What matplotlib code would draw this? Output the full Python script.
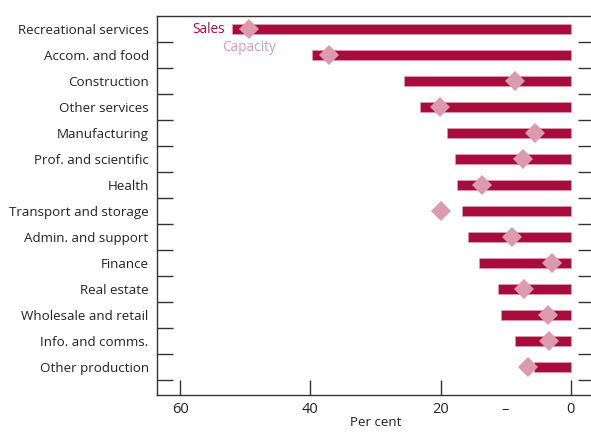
import matplotlib
matplotlib.use('Agg')
import matplotlib.pyplot as plt
from matplotlib.ticker import FixedLocator

# Sectors, top to bottom
sectors = ['Recreational services', 'Accom. and food', 'Construction', 'Other services',
           'Manufacturing', 'Prof. and scientific', 'Health', 'Transport and storage',
           'Admin. and support', 'Finance', 'Real estate', 'Wholesale and retail',
           'Info. and comms.', 'Other production']

# Fall in sales and capacity (per cent)
sales = [52.1, 39.7, 25.6, 23.2, 19.0, 17.7, 17.5, 16.7, 15.8, 14.1, 11.2, 10.7, 8.5, 5.7]
capacity = [49.4, 37.1, 8.6, 20.1, 5.5, 7.3, 13.6, 19.9, 9.0, 2.9, 7.2, 3.5, 3.3, 6.5]

x_ticks = [60, 40, 20, 10, 0]
x_ticklabels = ['60', '40', '20', '\u2013', '0']

bar_col = '#A80C3C'
dia_col = '#DB9AAE'
axis_col = '#333333'
text_col = '#222222'

plt.rcParams['font.family'] = ['Open Sans', 'DejaVu Sans']

fig = plt.figure(figsize=(5.91, 4.32), dpi=100)
ax = fig.add_axes([157 / 591, 37 / 432, 437 / 591, 379 / 432])

y = list(range(len(sectors)))
ax.barh(y, sales, height=0.38, color=bar_col, edgecolor='#E8A0B4', linewidth=0.4, zorder=2)
ax.plot(capacity, y, linestyle='none', marker='D', markersize=10.5,
        color=dia_col, markeredgewidth=0, zorder=3)

ax.text(53.2, 0, 'Sales', color=bar_col, fontsize=9.8, ha='right', va='center')
ax.text(53.6, 0.72, 'Capacity', color=dia_col, fontsize=9.8, ha='left', va='center')

ax.set_xlim(63.6, -3.6)
ax.set_ylim(14.07, -0.5)

ax.set_yticks(y)
ax.set_yticklabels(sectors, fontsize=9.6, color=text_col)
ax.yaxis.set_minor_locator(FixedLocator([i + 0.5 for i in range(len(sectors))]))
ax.tick_params(axis='y', which='major', length=0, pad=6)
ax.tick_params(axis='y', which='minor', direction='in', length=11.5, width=1,
               color=axis_col, left=True, right=True)

ax.set_xticks(x_ticks)
ax.set_xticklabels(x_ticklabels, fontsize=10.5, color=text_col)
ax.tick_params(axis='x', which='major', direction='in', length=11, width=1,
               color=axis_col, pad=5)
ax.xaxis.get_major_ticks()[3].tick1line.set_visible(False)
ax.set_xlabel('Per cent', fontsize=9.6, color=text_col, labelpad=-0.5)

for side in ['left', 'top', 'bottom']:
    ax.spines[side].set_color(axis_col)
    ax.spines[side].set_linewidth(1)
ax.spines['right'].set_visible(False)

fig.savefig('out.png', dpi=100)
